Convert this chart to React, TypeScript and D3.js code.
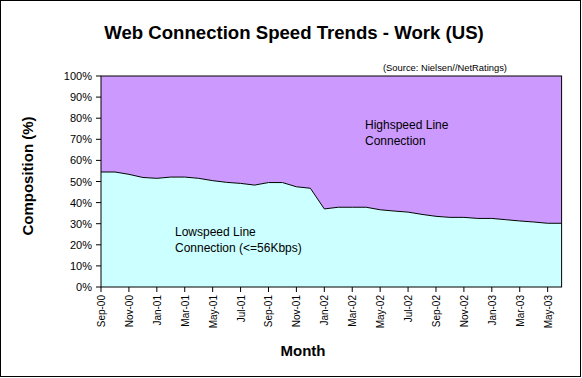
import React from "react";
import * as d3 from "d3";

const months = [
  "Sep-00","Oct-00","Nov-00","Dec-00","Jan-01","Feb-01","Mar-01","Apr-01","May-01","Jun-01","Jul-01","Aug-01",
  "Sep-01","Oct-01","Nov-01","Dec-01","Jan-02","Feb-02","Mar-02","Apr-02","May-02","Jun-02","Jul-02","Aug-02",
  "Sep-02","Oct-02","Nov-02","Dec-02","Jan-03","Feb-03","Mar-03","Apr-03","May-03","Jun-03",
];
const lowspeed = [
  54.5,54.5,53.4,51.9,51.5,52.1,52.1,51.5,50.4,49.6,49.1,48.3,
  49.5,49.5,47.5,46.8,37.0,37.8,37.8,37.8,36.6,36.0,35.5,34.4,
  33.5,33.0,33.0,32.5,32.5,31.9,31.3,30.8,30.2,30.2,
];
const yTicks = [0,10,20,30,40,50,60,70,80,90,100];

export default function App() {
  const W = 582, H = 378;
  const left = 101, right = 561.6, top = 76, bottom = 287;
  const x = d3.scalePoint<string>().domain(months).range([left, right]);
  const y = d3.scaleLinear().domain([0, 100]).range([bottom, top]);
  const data = months.map((m, i) => ({ m, v: lowspeed[i] }));
  const lowArea = d3.area<{m:string;v:number}>().x(d => x(d.m)!).y0(y(0)).y1(d => y(d.v));
  const highArea = d3.area<{m:string;v:number}>().x(d => x(d.m)!).y0(y(100)).y1(d => y(d.v));
  const line = d3.line<{m:string;v:number}>().x(d => x(d.m)!).y(d => y(d.v));
  const font = "'Liberation Sans', Arial, sans-serif";
  const xTickMonths = months.filter((_, i) => i % 2 === 0);
  return (
    <svg width={W} height={H} style={{ position: "absolute", left: 0, top: 0, background: "#fff" }} fontFamily={font}>
      <rect x={0.5} y={0.5} width={580} height={376} fill="#fff" stroke="#000" strokeWidth={1} />
      <text x={294} y={39} textAnchor="middle" fontSize={18.6} fontWeight="bold">Web Connection Speed Trends - Work (US)</text>
      <text x={507} y={71} textAnchor="end" fontSize={9.4}>(Source: Nielsen//NetRatings)</text>
      <path d={highArea(data)!} fill="#CC99FF" />
      <path d={lowArea(data)!} fill="#CCFFFF" />
      <path d={line(data)!} fill="none" stroke="#000" strokeWidth={1} />
      <rect x={left} y={top} width={right - left} height={bottom - top} fill="none" stroke="#000" strokeWidth={1} />
      {yTicks.map(t => (
        <g key={t}>
          <line x1={left - 5} x2={left} y1={y(t)} y2={y(t)} stroke="#000" />
          <text x={left - 9} y={y(t) + 4} textAnchor="end" fontSize={11}>{t}%</text>
        </g>
      ))}
      {xTickMonths.map(m => (
        <g key={m}>
          <line x1={x(m)!} x2={x(m)!} y1={bottom} y2={bottom + 5} stroke="#000" />
          <text transform={`translate(${x(m)! + 4},${bottom + 8}) rotate(-90)`} textAnchor="end" fontSize={10}>{m}</text>
        </g>
      ))}
      <text x={303} y={356} textAnchor="middle" fontSize={15} fontWeight="bold">Month</text>
      <text transform={`translate(33,176) rotate(-90)`} textAnchor="middle" fontSize={15} fontWeight="bold">Composition (%)</text>
      <text x={365} y={129} fontSize={12}>Highspeed Line</text>
      <text x={365} y={145} fontSize={12}>Connection</text>
      <text x={175} y={236} fontSize={12}>Lowspeed Line</text>
      <text x={175} y={252} fontSize={12}>Connection (&lt;=56Kbps)</text>
    </svg>
  );
}
